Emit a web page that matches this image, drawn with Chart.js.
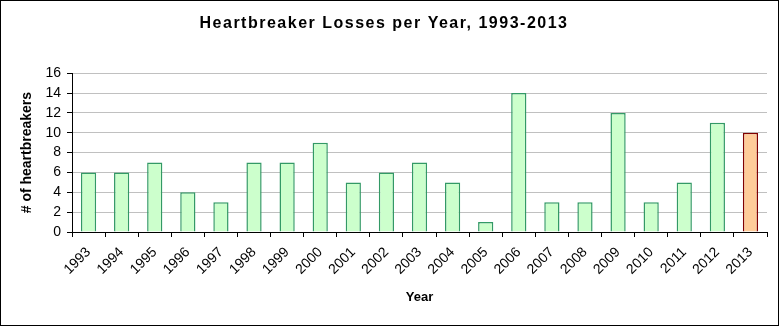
<!DOCTYPE html>
<html>
<head>
<meta charset="utf-8">
<script src="https://cdn.jsdelivr.net/npm/chart.js@4"></script>
<style>
  html, body { margin: 0; padding: 0; background: #fff; }
  #wrap { width: 779px; height: 327px; }
</style>
</head>
<body>
<div id="wrap"><canvas id="chart" width="779" height="327"></canvas></div>
<script>
// data
const years = ["1993", "1994", "1995", "1996", "1997", "1998", "1999", "2000", "2001", "2002",
  "2003", "2004", "2005", "2006", "2007", "2008", "2009", "2010", "2011", "2012", "2013"];
const losses = [6, 6, 7, 4, 3, 7, 7, 9, 5, 6, 7, 5, 1, 14, 3, 3, 12, 3, 5, 11, 10];
const yTicks = [0, 2, 4, 6, 8, 10, 12, 14, 16];

const FONT = "'Liberation Sans', Arial, sans-serif";

// last year is highlighted
const fillColors = years.map((y, i) => (i === years.length - 1 ? "#FFCC99" : "#CCFFCC"));
const edgeColors = years.map((y, i) => (i === years.length - 1 ? "#800000" : "#339966"));

// outer frame, plus wider letter spacing for the title
const framePlugin = {
  id: "frame",
  afterLayout(chart) {
    const tb = chart.titleBlock;
    if (tb && !tb._spaced) {
      const orig = tb.draw.bind(tb);
      tb.draw = function () {
        const ctx = chart.ctx;
        ctx.save();
        ctx.letterSpacing = "1.5px";
        orig();
        ctx.restore();
      };
      tb._spaced = true;
    }
  },
  afterDraw(chart) {
    const ctx = chart.ctx;
    ctx.save();
    ctx.strokeStyle = "#000";
    ctx.lineWidth = 1;
    ctx.strokeRect(0.5, 0.5, 778, 325);
    ctx.restore();
  },
};

new Chart(document.getElementById("chart").getContext("2d"), {
  type: "bar",
  data: {
    labels: years,
    datasets: [
      {
        label: "Losses",
        data: losses,
        backgroundColor: fillColors,
        borderColor: edgeColors,
        borderWidth: 1.5,
        barPercentage: 0.46,
        categoryPercentage: 1,
      },
    ],
  },
  options: {
    responsive: false,
    animation: false,
    layout: { padding: { left: 1, right: 12, top: 0, bottom: 2 } },
    plugins: {
      legend: { display: false },
      tooltip: { enabled: false },
      title: {
        display: true,
        text: "Heartbreaker Losses per Year, 1993-2013",
        color: "#000",
        font: { family: FONT, size: 16, weight: "bold" },
        padding: { top: 14, bottom: 40 },
      },
    },
    scales: {
      x: {
        offset: true,
        border: { color: "#000", width: 1 },
        grid: {
          offset: true,
          drawOnChartArea: false,
          drawTicks: true,
          tickLength: 5,
          tickColor: "#000",
        },
        ticks: {
          color: "#000",
          font: { family: FONT, size: 14 },
          minRotation: 45,
          maxRotation: 45,
          autoSkip: false,
          padding: 7,
        },
        title: {
          display: true,
          text: "Year",
          color: "#000",
          font: { family: FONT, size: 13, weight: "bold" },
          padding: { top: 0, bottom: 20 },
        },
        afterFit(scale) { scale.height = 93; },
      },
      y: {
        min: 0,
        max: 16,
        afterBuildTicks(scale) { scale.ticks = yTicks.map(v => ({ value: v })); },
        border: { color: "#000", width: 1 },
        grid: {
          color: "#C0C0C0",
          tickLength: 5,
          tickColor: "#000",
        },
        ticks: {
          color: "#000",
          font: { family: FONT, size: 14 },
          padding: 6,
        },
        title: {
          display: true,
          text: "# of heartbreakers",
          color: "#000",
          font: { family: FONT, size: 14, weight: "bold" },
          padding: { top: 18, bottom: 0 },
        },
        afterFit(scale) { scale.width = 71; },
      },
    },
  },
  plugins: [framePlugin],
});
</script>
</body>
</html>
